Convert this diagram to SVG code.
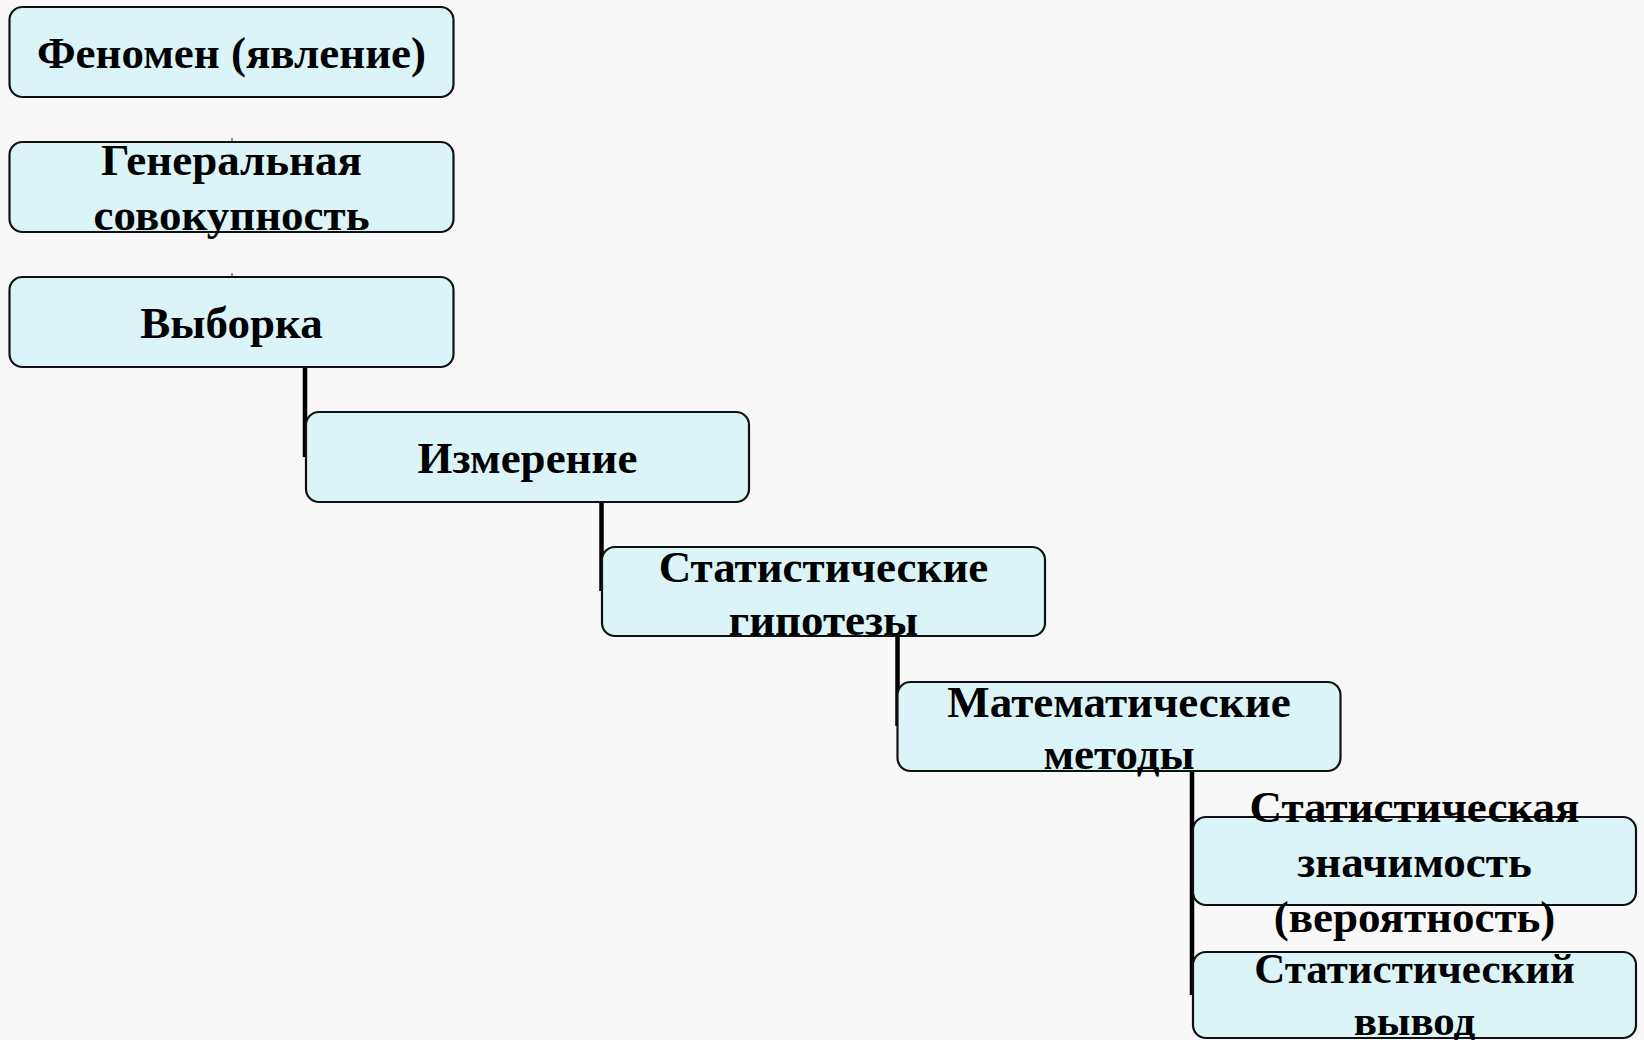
<svg xmlns="http://www.w3.org/2000/svg" width="1644" height="1040" viewBox="0 0 1644 1040">
<style>
.box{fill:#dbf4f8;stroke:#111;stroke-width:2.2}
.t{font-family:"Liberation Serif","Times New Roman",serif;font-weight:bold;font-size:45px;fill:#000;text-anchor:middle}
.s{font-size:43px}
.c{stroke:#000;stroke-width:4.5;fill:none}
.tick{stroke:#333;stroke-width:1;fill:none}
</style>
<rect x="0" y="0" width="1644" height="1040" fill="#f8f8f8"/>
<g id="connectors">
<line class="c" x1="305" y1="366" x2="305" y2="457"/>
<line class="c" x1="601.5" y1="501" x2="601.5" y2="591"/>
<line class="c" x1="897.5" y1="636" x2="897.5" y2="726"/>
<line class="c" x1="1192" y1="771" x2="1192" y2="995"/>
<line class="tick" x1="232" y1="138" x2="232" y2="142"/>
<line class="tick" x1="232" y1="273" x2="232" y2="277"/>
</g>
<g id="n1"><rect class="box" x="9.5" y="7" width="444" height="90" rx="13"/><text class="t" x="231.5" y="68">Феномен (явление)</text></g>
<g id="n2"><rect class="box" x="9.5" y="142" width="444" height="90" rx="13"/><text class="t" x="231.5" y="175">Генеральная</text><text class="t" x="231.5" y="230">совокупность</text></g>
<g id="n3"><rect class="box" x="9.5" y="277" width="444" height="90" rx="13"/><text class="t" x="231.5" y="338">Выборка</text></g>
<g id="n4"><rect class="box" x="306" y="412" width="443" height="90" rx="13"/><text class="t" x="527.5" y="473">Измерение</text></g>
<g id="n5"><rect class="box" x="602" y="547" width="443" height="89" rx="13"/><text class="t" x="823.5" y="582">Статистические</text><text class="t" x="823.5" y="635">гипотезы</text></g>
<g id="n6"><rect class="box" x="897.5" y="682" width="443" height="89" rx="13"/><text class="t" x="1119" y="717">Математические</text><text class="t" x="1119" y="769">методы</text></g>
<g id="n7"><rect class="box" x="1193" y="817" width="443" height="88" rx="13"/><text class="t" x="1414.5" y="822">Статистическая</text><text class="t" x="1414.5" y="877">значимость</text><text class="t" x="1414.5" y="932">(вероятность)</text></g>
<g id="n8"><rect class="box" x="1193" y="952" width="443" height="86" rx="13"/><text class="t s" x="1414.5" y="983">Статистический</text><text class="t s" x="1414.5" y="1035">вывод</text></g>
</svg>
